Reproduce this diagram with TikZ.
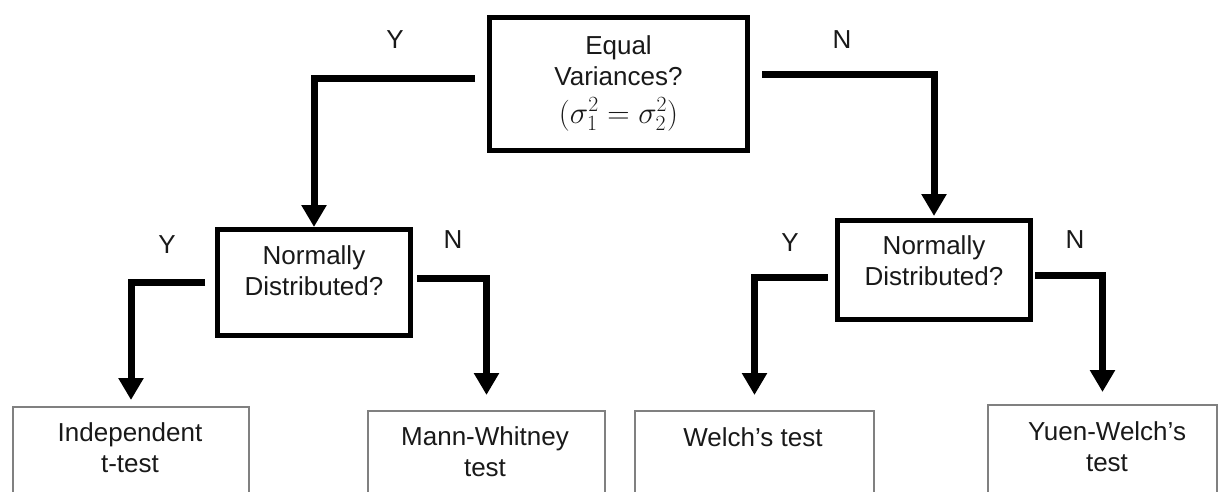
\documentclass[tikz,border=0pt]{standalone}
\usepackage{fix-cm}
\usepackage{fontspec}
\setmainfont{Liberation Sans}
\usetikzlibrary{arrows.meta}
\begin{document}
\begin{tikzpicture}[x=1pt,y=-1pt,
  qbox/.style={draw=black, line width=5pt, inner sep=0pt},
  rbox/.style={draw=black!50, line width=2pt, inner sep=0pt},
  txt/.style={inner sep=0pt, align=center, font=\fontsize{26}{31}\selectfont, text=black!90},
  yn/.style={inner sep=0pt, font=\fontsize{26}{31}\selectfont, text=black!90},
  conn/.style={line width=7pt, -{Triangle[length=22pt,width=24pt]}}]
\fill[white] (0,0) rectangle (1223,491);
\clip (0,0) rectangle (1223,491);

% decision boxes
\node[qbox, minimum width=258pt, minimum height=133pt] (top) at (618.5,84) {};
\node[qbox, minimum width=193pt, minimum height=106pt] (nl) at (314,282.5) {};
\node[qbox, minimum width=193pt, minimum height=99pt] (nr) at (934,270) {};

% outcome boxes (their lower edges run off the page)
\node[rbox, minimum width=236pt, minimum height=140pt] (ind) at (131,477) {};
\node[rbox, minimum width=237pt, minimum height=140pt] (mw) at (486.5,481) {};
\node[rbox, minimum width=239pt, minimum height=140pt] (wt) at (754.5,481) {};
\node[rbox, minimum width=229pt, minimum height=140pt] (yw) at (1102.5,475) {};

% box texts
\node[txt] (t-top) at (618.5,83) {Equal\\Variances?\\[7pt]{\fontsize{31}{31}\selectfont$(\sigma_1^2=\sigma_2^2)$}};
\node[txt] (t-nl) at (314,271) {Normally\\Distributed?};
\node[txt] (t-nr) at (934,261) {Normally\\Distributed?};
\node[txt] (t-ind) at (130,448) {Independent\\t-test};
\node[txt] (t-mw) at (485,452) {Mann-Whitney\\test};
\node[txt] (t-wt) at (753,437) {Welch’s test};
\node[txt] (t-yw) at (1107,447) {Yuen-Welch’s\\test};

% branch labels
\node[yn] (y0) at (395,40) {Y};
\node[yn] (n0) at (842,40) {N};
\node[yn] (y1) at (167,245) {Y};
\node[yn] (n1) at (453,240) {N};
\node[yn] (y2) at (790,243) {Y};
\node[yn] (n2) at (1075,240) {N};

% connectors
\draw[conn] ([xshift=-12pt,yshift=6pt]top.west) -| (nl.north);
\draw[conn] ([xshift=12pt,yshift=10pt]top.east) -| ([yshift=2pt]nr.north);
\draw[conn] ([xshift=-10pt,yshift=0pt]nl.west) -| ([yshift=6pt]ind.north);
\draw[conn] ([xshift=4pt,yshift=4pt]nl.east) -| ([yshift=15pt]mw.north);
\draw[conn] ([xshift=-7pt,yshift=-7pt]nr.west) -| ([yshift=15pt]wt.north);
\draw[conn] ([xshift=2pt,yshift=-5pt]nr.east) -| ([yshift=12pt]yw.north);
\end{tikzpicture}
\end{document}
